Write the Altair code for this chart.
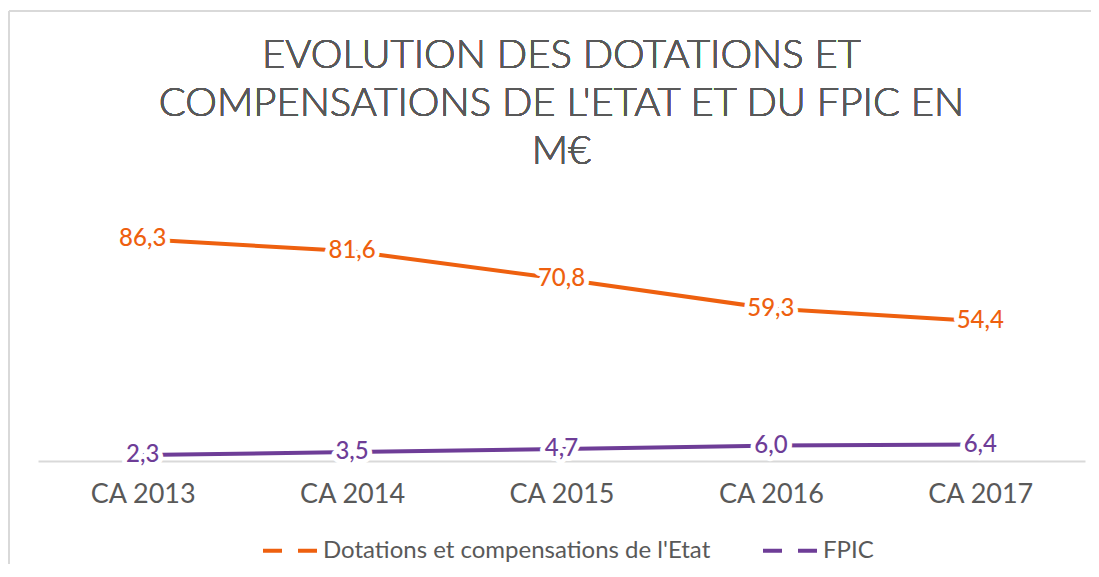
import altair as alt
import pandas as pd

categories = ["CA 2013", "CA 2014", "CA 2015", "CA 2016", "CA 2017"]
series_names = ["Dotations et compensations de l'Etat", "FPIC"]
dotations = [86.3, 81.6, 70.8, 59.3, 54.4]
fpic = [2.3, 3.5, 4.7, 6.0, 6.4]
colors = ["#EE600F", "#6E3D97"]
title_lines = ["EVOLUTION DES DOTATIONS ET", "COMPENSATIONS DE L'ETAT ET DU FPIC EN", "M€"]

rows = []
for name, vals in zip(series_names, [dotations, fpic]):
    for c, v in zip(categories, vals):
        rows.append({"cat": c, "series": name, "value": v})
df = pd.DataFrame(rows)

base = alt.Chart(df).encode(
    x=alt.X("cat:N", sort=categories, scale=alt.Scale(type="point", padding=0.5),
            axis=alt.Axis(title=None, ticks=False, grid=False, labelAngle=0,
                          domainColor="#D9D9D9", domainWidth=2,
                          labelFont="Lato", labelFontSize=27, labelColor="#595959",
                          labelPadding=20)),
    y=alt.Y("value:Q", scale=alt.Scale(domain=[0, 100]), axis=None),
)

color_scale = alt.Scale(domain=series_names, range=colors)

line = base.mark_line(strokeWidth=4).encode(
    color=alt.Color("series:N", scale=color_scale,
                    legend=alt.Legend(title=None, orient="none", direction="horizontal",
                                      legendX=223, legendY=317,
                                      symbolType="stroke", symbolStrokeWidth=4,
                                      symbolDash=[19, 16], symbolSize=3025,
                                      labelFont="Lato", labelFontSize=24,
                                      labelColor="#595959", labelOffset=3,
                                      labelLimit=600, columnPadding=44))
)

labels = base.transform_calculate(
    label="replace(format(datum.value, '.1f'), '.', ',')"
)

halo = labels.mark_text(font="Lato", fontSize=24, stroke="white", strokeWidth=10,
                        fill="white", strokeJoin="round").encode(text="label:N")
text = labels.mark_text(font="Lato", fontSize=24, fontWeight=500).encode(
    text="label:N",
    color=alt.Color("series:N", scale=color_scale, legend=None),
)

title = alt.Chart(df).mark_text(font="Lato", fontSize=40, fontWeight=300,
                                color="#595959", lineHeight=48, align="center",
                                baseline="alphabetic").encode(
    x=alt.value(523.5), y=alt.value(-136), text=alt.value(title_lines))

frame_top = alt.Chart(df).mark_rule(color="#D9D9D9", strokeWidth=2).encode(
    x=alt.value(-29), x2=alt.value(1060), y=alt.value(-193))
frame_left = alt.Chart(df).mark_rule(color="#D9D9D9", strokeWidth=2).encode(
    x=alt.value(-29), y=alt.value(-193), y2=alt.value(360))

chart = alt.layer(frame_top, frame_left, title, line, halo, text).properties(
    width=1047, height=257,
    autosize=alt.AutoSizeParams(type="none"),
    padding={"left": 30, "top": 196, "right": 6, "bottom": 108},
).configure_view(stroke=None)

chart.save("out.html", embed_options={"renderer": "svg", "actions": False})
